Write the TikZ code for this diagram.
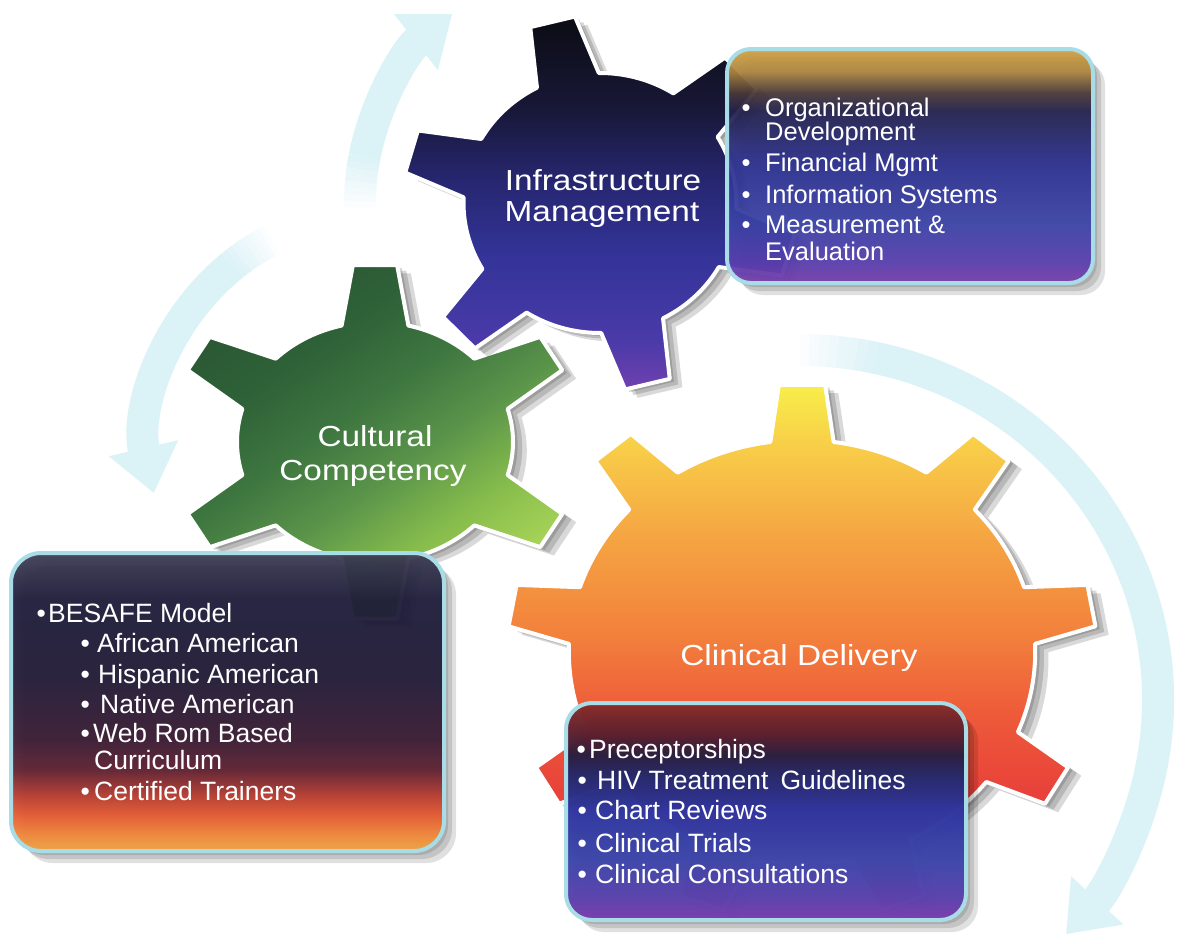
\documentclass[tikz,border=0pt]{standalone}
\usepackage{fontspec}
\setmainfont{Liberation Sans}
\usetikzlibrary{arrows.meta,calc}

% ---------- colours ----------
\definecolor{cyclecol}{HTML}{DBF2F7}
\definecolor{boxedge}{HTML}{A8DCE6}
% infrastructure box
\definecolor{ibA}{HTML}{7C3EAE}\definecolor{ibB}{HTML}{5A40B0}
\definecolor{ibC}{HTML}{3C44A8}\definecolor{ibD}{HTML}{2C3090}
\definecolor{ibE}{HTML}{24224E}\definecolor{ibF}{HTML}{4A3A3A}
\definecolor{ibG}{HTML}{B08840}\definecolor{ibH}{HTML}{D0A040}
% cultural box
\definecolor{cbA}{HTML}{F4A640}\definecolor{cbB}{HTML}{F28838}
\definecolor{cbC}{HTML}{E85A30}\definecolor{cbD}{HTML}{B83A2E}
\definecolor{cbE}{HTML}{602030}\definecolor{cbF}{HTML}{3A1A32}
\definecolor{cbG}{HTML}{221A36}\definecolor{cbH}{HTML}{1E1C3A}
\definecolor{cbI}{HTML}{3C3C54}
% clinical box
\definecolor{kbA}{HTML}{7E3CAE}\definecolor{kbB}{HTML}{5E42AE}
\definecolor{kbC}{HTML}{3E48AA}\definecolor{kbD}{HTML}{3036A0}
\definecolor{kbE}{HTML}{262A6A}\definecolor{kbF}{HTML}{2A2040}
\definecolor{kbG}{HTML}{5A2030}\definecolor{kbH}{HTML}{8A2E2A}
% gears
\definecolor{bgA}{HTML}{7040B0}\definecolor{bgB}{HTML}{4A3AA8}
\definecolor{bgC}{HTML}{34349A}\definecolor{bgD}{HTML}{262670}
\definecolor{bgE}{HTML}{181838}\definecolor{bgF}{HTML}{0C0C14}
\definecolor{grA}{HTML}{A8D458}\definecolor{grB}{HTML}{86BC4C}
\definecolor{grC}{HTML}{5A944A}\definecolor{grD}{HTML}{3E7640}
\definecolor{grE}{HTML}{2F6238}\definecolor{grF}{HTML}{2A5834}
\definecolor{ogA}{HTML}{E43A36}\definecolor{ogB}{HTML}{E8423A}
\definecolor{ogC}{HTML}{EE5A3A}\definecolor{ogD}{HTML}{F2803C}
\definecolor{ogE}{HTML}{F5A442}\definecolor{ogF}{HTML}{F8CC48}
\definecolor{ogG}{HTML}{F8EE4A}

% ---------- shadings (path spans 25bp..75bp) ----------
\pgfdeclareverticalshading{infrabox}{100bp}{color(0bp)=(ibA); color(25bp)=(ibA);
  color(29.3bp)=(ibB); color(37.8bp)=(ibC); color(50.6bp)=(ibD); color(61.8bp)=(ibE);
  color(65.6bp)=(ibF); color(70.3bp)=(ibG); color(75bp)=(ibH); color(100bp)=(ibH)}
\pgfdeclareverticalshading{cultbox}{100bp}{color(0bp)=(cbA); color(25bp)=(cbA);
  color(27.7bp)=(cbB); color(31bp)=(cbC); color(34.4bp)=(cbD); color(38.6bp)=(cbE);
  color(43.6bp)=(cbF); color(53.7bp)=(cbG); color(67.1bp)=(cbH); color(75bp)=(cbI);
  color(100bp)=(cbI)}
\pgfdeclareverticalshading{clinbox}{100bp}{color(0bp)=(kbA); color(25bp)=(kbA);
  color(29.6bp)=(kbB); color(38.8bp)=(kbC); color(50.3bp)=(kbD); color(58.4bp)=(kbE);
  color(63bp)=(kbF); color(67.6bp)=(kbG); color(75bp)=(kbH); color(100bp)=(kbH)}
\pgfdeclareverticalshading{bluegear}{100bp}{color(0bp)=(bgA); color(25bp)=(bgA);
  color(31.7bp)=(bgB); color(42.4bp)=(bgC); color(53.2bp)=(bgD); color(62.5bp)=(bgE);
  color(75bp)=(bgF); color(100bp)=(bgF)}
\pgfdeclareverticalshading{greengear}{100bp}{color(0bp)=(grA); color(25bp)=(grA);
  color(35bp)=(grB); color(45bp)=(grC); color(55bp)=(grD); color(65bp)=(grE);
  color(75bp)=(grF); color(100bp)=(grF)}
\pgfdeclareverticalshading{orangegear}{100bp}{color(0bp)=(ogA); color(25bp)=(ogA);
  color(36.2bp)=(ogB); color(43.7bp)=(ogC); color(51.1bp)=(ogD); color(60.4bp)=(ogE);
  color(68.8bp)=(ogF); color(75bp)=(ogG); color(100bp)=(ogG)}

% gear outline: #1 teeth, #2 first tooth angle, #3 root radius,
% #4 tip radius, #5 half angle at root, #6 half angle at tip
\newcommand\gearoutline[6]{({#2-#5}:#3)
  \foreach \k in {1,...,#1}{
    -- ({#2+(\k-1)*360/#1-#5}:#3)
    -- ({#2+(\k-1)*360/#1-#6}:#4)
    -- ({#2+(\k-1)*360/#1+#6}:#4)
    -- ({#2+(\k-1)*360/#1+#5}:#3)
    arc[start angle={#2+(\k-1)*360/#1+#5}, delta angle={360/#1-2*#5}, radius=#3]
  } -- cycle}

\begin{document}
\begin{tikzpicture}[x=1pt,y=-1pt,
  cycleband/.style={draw=cyclecol, line width=32pt},
  cyclehead/.style={-{Triangle[length=46pt,width=68pt]}},
  gearshadow/.style={fill=black, opacity=.15},
  gearrim/.style={draw=white, line width=4pt, line join=round},
  boxshadow/.style={fill=black, opacity=.12},
  boxrim/.style={draw=boxedge, line width=4pt},
  gearlabel/.style={anchor=base, inner sep=0pt, text=white, xscale=1.15,
    font=\fontsize{29}{32}\selectfont},
  infotext/.style={anchor=base west, inner sep=0pt, text=white,
    font=\fontsize{26.5}{30}\selectfont},
  infratext/.style={infotext, font=\fontsize{25.5}{30}\selectfont}]

\fill[white] (0,0) rectangle (1188,943);
\useasboundingbox (0,0) rectangle (1188,943);

\coordinate (infraC) at (600,203);
\coordinate (cultC) at (375,442);
\coordinate (clinC) at (802,652);
\coordinate (loopC) at (800,700);

% ---------- cycle arrows (each fades in at its tail) ----------
% upper left, turning towards the infrastructure gear
\foreach \i [evaluate=\i as \op using (\i+1)/9] in {0,...,7}
  \draw[cycleband, draw opacity=\op] ($(infraC)+({-181+\i*1.5}:240)$)
    arc[start angle={-181+\i*1.5}, delta angle=1.5, radius=240];
\draw[cycleband, cyclehead] ($(infraC)+(-169:240)$) arc[start angle=-169, end angle=-128, radius=240];
% left, running down past the cultural gear
\foreach \i [evaluate=\i as \op using (\i+1)/9] in {0,...,7}
  \draw[cycleband, draw opacity=\op] ($(cultC)+({-117-\i*1.5}:227)$)
    arc[start angle={-117-\i*1.5}, delta angle=-1.5, radius=227];
\draw[cycleband, cyclehead] ($(cultC)+(-129:227)$) arc[start angle=-129, end angle=-193, radius=227];
% right, round the clinical gear
\foreach \i [evaluate=\i as \op using (\i+1)/9] in {0,...,7}
  \draw[cycleband, draw opacity=\op] ($(loopC)+({-90+\i*1.5}:358 and 350)$)
    arc[start angle={-90+\i*1.5}, delta angle=1.5, x radius=358, y radius=350];
\draw[cycleband, cyclehead] ($(loopC)+(-78:358 and 350)$) arc[start angle=-78, end angle=42, x radius=358, y radius=350];

% ---------- cultural competency gear ----------
\begin{scope}[shift={(cultC)}, xscale=1.15]
  \foreach \d in {4,8,12}
    \fill[gearshadow, shift={(\d,0.7*\d)}] \gearoutline{6}{-90}{120}{178}{14}{6.2};
  \shade[shading=greengear, shading angle=35] \gearoutline{6}{-90}{120}{178}{14}{6.2};
  \draw[gearrim] \gearoutline{6}{-90}{120}{178}{14}{6.2};
\end{scope}

% ---------- infrastructure management gear ----------
\begin{scope}[shift={(infraC)}, xscale=1.05]
  \foreach \d in {4,8,12}
    \fill[gearshadow, shift={(\d,0.7*\d)}] \gearoutline{6}{-104}{130}{188}{13.5}{6.7};
  \shade[shading=bluegear] \gearoutline{6}{-104}{130}{188}{13.5}{6.7};
  \draw[gearrim] \gearoutline{6}{-104}{130}{188}{13.5}{6.7};
\end{scope}

% ---------- clinical delivery gear ----------
\begin{scope}[shift={(clinC)}, xscale=1.1]
  \foreach \d in {4,8,12}
    \fill[gearshadow, shift={(\d,0.7*\d)}] \gearoutline{9}{-90}{212}{268}{7.8}{4.5};
  \shade[shading=orangegear] \gearoutline{9}{-90}{212}{268}{7.8}{4.5};
  \draw[gearrim] \gearoutline{9}{-90}{212}{268}{7.8}{4.5};
\end{scope}

% gear titles
\node[gearlabel] (infraT1) at (603,190) {Infrastructure};
\node[gearlabel] (infraT2) at (602,221) {Management};
\node[gearlabel] (cultT1) at (375,446) {Cultural};
\node[gearlabel] (cultT2) at (373,480) {Competency};
\node[gearlabel] (clinT) at (799,665) {Clinical Delivery};

% ---------- information boxes ----------
\foreach \d in {4,8,12}
  \fill[boxshadow, rounded corners=24pt, shift={(\d,\d)}] (727,49) rectangle (1093,283);
\shade[shading=infrabox, fill opacity=.93, rounded corners=24pt] (727,49) rectangle (1093,283);
\draw[boxrim, rounded corners=24pt] (727,49) rectangle (1093,283);

\foreach \d in {4,8,12}
  \fill[boxshadow, rounded corners=30pt, shift={(\d,\d)}] (11,553) rectangle (444,851);
\shade[shading=cultbox, fill opacity=.93, rounded corners=30pt] (11,553) rectangle (444,851);
\draw[boxrim, rounded corners=30pt] (11,553) rectangle (444,851);

\foreach \d in {4,8,12}
  \fill[boxshadow, rounded corners=26pt, shift={(\d,\d)}] (566,703) rectangle (966,920);
\shade[shading=clinbox, fill opacity=.98, rounded corners=26pt] (566,703) rectangle (966,920);
\draw[boxrim, rounded corners=26pt] (566,703) rectangle (966,920);

% infrastructure items
\node[infratext] (inf1) at (741.4,116) {\makebox[23.6pt][l]{•}Organizational};
\node[infratext] (inf2) at (765,140) {Development};
\node[infratext] (inf3) at (741.4,171) {\makebox[23.6pt][l]{•}Financial Mgmt};
\node[infratext] (inf4) at (741.4,203) {\makebox[23.6pt][l]{•}Information Systems};
\node[infratext] (inf5) at (741.4,233) {\makebox[23.6pt][l]{•}Measurement \&};
\node[infratext] (inf6) at (765,260) {Evaluation};

% cultural competency items
\node[infotext] (cul1) at (36.4,622) {\makebox[11.6pt][l]{•}BESAFE Model};
\node[infotext] (cul2) at (80.4,652) {\makebox[16.6pt][l]{•}African American};
\node[infotext] (cul3) at (80.4,683) {\makebox[17.6pt][l]{•}Hispanic American};
\node[infotext] (cul4) at (80.4,713) {\makebox[19.6pt][l]{•}Native American};
\node[infotext] (cul5) at (80.4,742) {\makebox[12.6pt][l]{•}Web Rom Based};
\node[infotext] (cul6) at (94,769) {Curriculum};
\node[infotext] (cul7) at (80.4,800) {\makebox[13.6pt][l]{•}Certified Trainers};

% clinical delivery items
\node[infotext] (cli1) at (576.4,758) {\makebox[12.6pt][l]{•}Preceptorships};
\node[infotext] (cli2) at (577.4,789) {\makebox[19.6pt][l]{•}HIV Treatment\hspace{12pt}Guidelines};
\node[infotext] (cli3) at (577.4,819) {\makebox[17.6pt][l]{•}Chart Reviews};
\node[infotext] (cli4) at (577.4,852) {\makebox[17.6pt][l]{•}Clinical Trials};
\node[infotext] (cli5) at (577.4,883) {\makebox[17.6pt][l]{•}Clinical Consultations};

\end{tikzpicture}
\end{document}
